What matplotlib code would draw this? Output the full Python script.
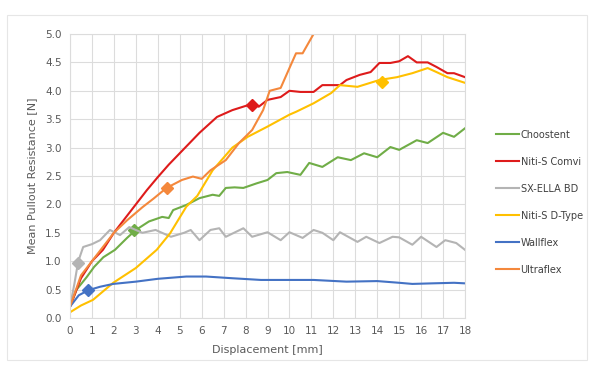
import matplotlib.pyplot as plt
from matplotlib.patches import Rectangle

# Mean pullout resistance vs displacement
choostent_x = [0, 0.3, 0.76, 1.1, 1.52, 2.05, 2.6, 3.0, 3.6, 4.2, 4.5, 4.7, 5.3, 5.9, 6.5, 6.8,
               7.1, 7.5, 7.9, 8.5, 9.0, 9.4, 9.9, 10.5, 10.9, 11.5, 12.2, 12.8, 13.4, 14.0,
               14.6, 15.0, 15.8, 16.3, 17.0, 17.5, 18]
choostent_y = [0.2, 0.5, 0.72, 0.9, 1.07, 1.2, 1.41, 1.55, 1.7, 1.78, 1.76, 1.9, 1.99, 2.11, 2.17,
               2.15, 2.29, 2.3, 2.29, 2.37, 2.43, 2.55, 2.57, 2.52, 2.73, 2.66, 2.83, 2.78, 2.9,
               2.83, 3.01, 2.96, 3.13, 3.08, 3.26, 3.19, 3.34]

comvi_x = [0, 0.5, 1.0, 1.5, 2.0, 2.5, 3.0, 3.5, 4.0, 4.5, 5.0, 5.9, 6.7, 7.4, 8.3, 8.6, 9.0,
           9.6, 10.0, 10.5, 11.1, 11.5, 12.3, 12.6, 13.2, 13.7, 14.1, 14.6, 15.0, 15.4, 15.8,
           16.3, 16.7, 17.2, 17.5, 18]
comvi_y = [0.2, 0.7, 1.0, 1.2, 1.5, 1.75, 2.0, 2.25, 2.48, 2.7, 2.9, 3.26, 3.54, 3.66, 3.77, 3.72,
           3.84, 3.89, 4.0, 3.98, 3.98, 4.1, 4.1, 4.19, 4.28, 4.33, 4.49, 4.49, 4.52, 4.61, 4.5,
           4.5, 4.42, 4.31, 4.31, 4.24]

ella_x = [0, 0.2, 0.37, 0.6, 1.0, 1.37, 1.82, 2.28, 2.7, 3.3, 3.9, 4.6, 5.2, 5.5, 5.9, 6.4, 6.8,
          7.1, 7.9, 8.3, 9.0, 9.6, 10.0, 10.6, 11.1, 11.5, 12.0, 12.3, 13.1, 13.5, 14.1, 14.7,
          15.0, 15.6, 16.0, 16.7, 17.1, 17.6, 18]
ella_y = [0.2, 0.6, 0.99, 1.25, 1.3, 1.37, 1.55, 1.46, 1.6, 1.5, 1.55, 1.43, 1.5, 1.55, 1.37,
          1.55, 1.58, 1.43, 1.58, 1.43, 1.51, 1.37, 1.51, 1.41, 1.55, 1.5, 1.37, 1.51, 1.34,
          1.43, 1.32, 1.43, 1.42, 1.29, 1.43, 1.25, 1.37, 1.32, 1.2]

dtype_x = [0, 0.5, 1.05, 1.97, 3.0, 3.95, 4.56, 5.3, 5.8, 6.5, 7.4, 8.1, 9.0, 10.0, 10.3, 11.1,
           11.9, 12.3, 13.1, 14.1, 14.9, 15.6, 16.3, 16.7, 17.2, 18]
dtype_y = [0.1, 0.22, 0.32, 0.62, 0.88, 1.2, 1.49, 1.96, 2.15, 2.6, 3.0, 3.19, 3.37, 3.58, 3.63,
           3.78, 3.96, 4.1, 4.07, 4.19, 4.24, 4.31, 4.4, 4.33, 4.24, 4.14]

wallflex_x = [0, 0.4, 0.84, 1.37, 1.97, 3.0, 4.0, 5.3, 6.2, 7.4, 8.7, 10.0, 11.1, 12.6, 14.0,
              15.0, 15.6, 16.5, 17.5, 18]
wallflex_y = [0.2, 0.4, 0.49, 0.55, 0.6, 0.64, 0.69, 0.73, 0.73, 0.7, 0.67, 0.67, 0.67, 0.64,
              0.65, 0.62, 0.6, 0.61, 0.62, 0.61]

ultraflex_x = [0, 0.5, 1.0, 1.6, 2.0, 2.6, 3.3, 3.8, 4.4, 5.1, 5.6, 6.0, 6.4, 7.1, 7.7, 8.3,
               8.8, 9.1, 9.6, 10.0, 10.3, 10.6, 11.1, 11.3]
ultraflex_y = [0.2, 0.75, 1.0, 1.3, 1.5, 1.72, 1.95, 2.1, 2.29, 2.43, 2.49, 2.45, 2.6, 2.78,
               3.08, 3.31, 3.66, 4.0, 4.05, 4.4, 4.66, 4.66, 5.0, 5.15]

names = ["Choostent", "Niti-S Comvi", "SX-ELLA BD", "Niti-S D-Type", "Wallflex", "Ultraflex"]
colors = ["#70AD47", "#DE1B1B", "#B4B4B4", "#FFC000", "#4472C4", "#F4883C"]
series_x = [choostent_x, comvi_x, ella_x, dtype_x, wallflex_x, ultraflex_x]
series_y = [choostent_y, comvi_y, ella_y, dtype_y, wallflex_y, ultraflex_y]

# diamond marker positions
marker_x = [2.9, 8.3, 0.37, 14.2, 0.84, 4.4]
marker_y = [1.55, 3.75, 0.97, 4.15, 0.5, 2.28]

fig = plt.figure(figsize=(5.95, 3.67), dpi=100)
fig.patches.append(Rectangle((7 / 595, 0.02), 0.975, 0.94, transform=fig.transFigure,
                             fill=False, edgecolor="#E6E6E6", linewidth=0.8))
ax = fig.add_axes([70 / 595, 1 - 318 / 367, 395 / 595, 284 / 367])

for xs, ys, c, n, mx, my in zip(series_x, series_y, colors, names, marker_x, marker_y):
    ax.plot(xs, ys, color=c, linewidth=1.5, label=n)
    ax.plot([mx], [my], marker="D", markersize=6, color=c, linestyle="none")

ax.set_xlim(0, 18)
ax.set_ylim(0, 5)
ax.set_xticks(range(0, 19))
ax.set_yticks([i * 0.5 for i in range(11)])
ax.set_yticklabels([f"{i * 0.5:.1f}" for i in range(11)])
ax.grid(True, color="#DCDCDC", linewidth=0.8)
ax.set_axisbelow(True)
for s in ax.spines.values():
    s.set_color("#DCDCDC")
ax.tick_params(length=0, labelsize=7.5, labelcolor="#595959", pad=6)

ax.set_xlabel("Displacement [mm]", fontsize=8, color="#595959", labelpad=6)
ax.set_ylabel("Mean Pullout Resistance [N]", fontsize=8, color="#595959", labelpad=6)

handles = [plt.Line2D([], [], color=c, linewidth=1.5) for c in colors]
fig.legend(handles, names, loc="upper left", bbox_to_anchor=(487 / 595, 1 - 121 / 367),
           frameon=False, fontsize=7, labelcolor="#404040", handlelength=2.4,
           handletextpad=0.15, labelspacing=1.75)

fig.savefig("out.png", dpi=100)
